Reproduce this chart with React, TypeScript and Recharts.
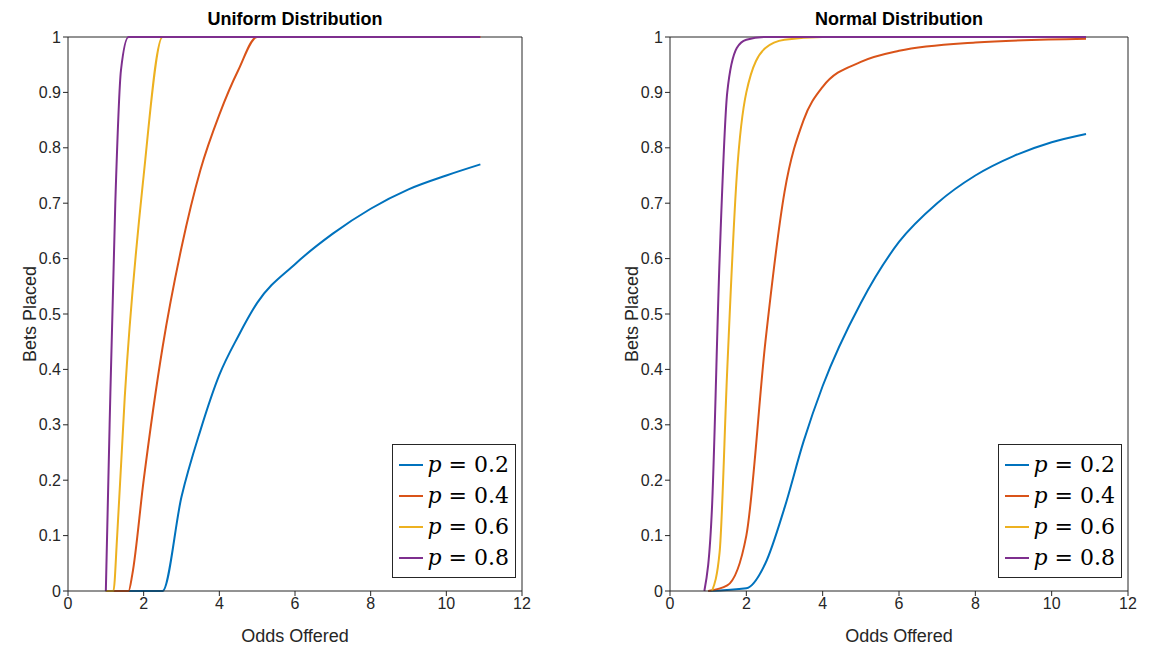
import { LineChart, Line, XAxis, YAxis, Label, ReferenceLine } from 'recharts'

type Pt = { x: number; y: number }
const pts = (a: number[][]): Pt[] => a.map(([x, y]) => ({ x, y }))

const COLORS = ['#0072BD', '#D95319', '#EDB120', '#7E2F8E']
const LABELS = ['p = 0.2', 'p = 0.4', 'p = 0.6', 'p = 0.8']
const X_TICKS = [0, 2, 4, 6, 8, 10, 12]
const Y_TICKS = [0, 0.1, 0.2, 0.3, 0.4, 0.5, 0.6, 0.7, 0.8, 0.9, 1]

const uniformP2 = pts([[1, 0], [2.5, 0], [3, 0.17], [3.5, 0.29], [4, 0.39], [4.5, 0.46], [5, 0.52], [6, 0.59], [7, 0.645], [8, 0.69], [9, 0.725], [10, 0.75], [10.9, 0.77]])
const uniformP4 = pts([[1, 0], [1.6, 0], [1.7, 0.03], [2, 0.2], [2.5, 0.44], [3, 0.62], [3.5, 0.76], [4, 0.86], [4.5, 0.94], [5, 1], [10.9, 1]])
const uniformP6 = pts([[1, 0], [1.2, 0], [1.3, 0.1], [1.5, 0.35], [2, 0.75], [2.5, 1], [10.9, 1]])
const uniformP8 = pts([[1, 0], [1.1, 0.3], [1.25, 0.7], [1.4, 0.94], [1.6, 1], [10.9, 1]])

const normalP2 = pts([[1, 0], [2, 0.005], [2.5, 0.05], [3, 0.15], [3.5, 0.27], [4, 0.37], [5, 0.52], [6, 0.63], [7, 0.7], [8, 0.75], [9, 0.785], [10, 0.81], [10.9, 0.825]])
const normalP4 = pts([[1, 0], [1.5, 0.01], [2, 0.1], [2.5, 0.45], [3, 0.72], [3.5, 0.85], [4, 0.91], [5, 0.955], [6, 0.975], [8, 0.99], [10.9, 0.997]])
const normalP6 = pts([[1.1, 0], [1.3, 0.07], [1.5, 0.4], [1.75, 0.75], [2, 0.9], [2.5, 0.98], [3, 0.995], [4, 1], [10.9, 1]])
const normalP8 = pts([[0.9, 0], [1.1, 0.15], [1.3, 0.6], [1.5, 0.9], [1.75, 0.98], [2, 0.995], [2.5, 1], [10.9, 1]])

const font = 'Liberation Sans, Arial, sans-serif'
const tick = { fontSize: 16, fill: '#262626', fontFamily: font }

function Panel({ title, series, left, marginLeft, marginRight }: { title: string; series: Pt[][]; left: number; marginLeft: number; marginRight: number }) {
  return (
    <div style={{ position: 'absolute', left, top: 0 }}>
      <div style={{ position: 'absolute', top: 9, left: marginLeft + 40, width: 575 - marginLeft - 40 - marginRight, textAlign: 'center', fontFamily: font, fontWeight: 'bold', fontSize: 18, color: '#000' }}>{title}</div>
      <LineChart width={575} height={649} margin={{ top: 37, right: marginRight, bottom: 28, left: marginLeft }}>
        <XAxis type="number" dataKey="x" domain={[0, 12]} ticks={X_TICKS} tick={tick} stroke="#262626" tickSize={5} height={30} allowDataOverflow>
          <Label value="Odds Offered" position="bottom" offset={8} style={{ fontSize: 18, fill: '#262626', fontFamily: font }} />
        </XAxis>
        <YAxis type="number" domain={[0, 1]} ticks={Y_TICKS} tick={tick} stroke="#262626" tickSize={5} width={40} tickFormatter={v => String(v)}>
          <Label value="Bets Placed" angle={-90} position="left" offset={-2} style={{ fontSize: 18, fill: '#262626', fontFamily: font, textAnchor: 'middle' }} />
        </YAxis>
        <ReferenceLine y={1} stroke="#262626" />
        <ReferenceLine x={12} stroke="#262626" />
        {series.map((d, i) => (
          <Line key={i} data={d} dataKey="y" type="monotone" stroke={COLORS[i]} strokeWidth={2} dot={false} isAnimationActive={false} />
        ))}
      </LineChart>
      <div style={{ position: 'absolute', left: 575 - marginRight - 130, top: 444, width: 124, height: 134, border: '1px solid #262626', background: '#fff', boxSizing: 'border-box', padding: '4px 6px' }}>
        {LABELS.map((l, i) => (
          <div key={l} style={{ display: 'flex', alignItems: 'center', height: 31 }}>
            <div style={{ width: 36, height: 2, background: COLORS[i], marginRight: 4 }} />
            <span style={{ fontFamily: 'DejaVu Serif, serif', fontSize: 22, fontStyle: 'italic', whiteSpace: 'nowrap' }}>p <span style={{ fontStyle: 'normal' }}>= {l.slice(4)}</span></span>
          </div>
        ))}
      </div>
    </div>
  )
}

export default function App() {
  return (
    <div style={{ position: 'absolute', left: 0, top: 0, width: 1150, height: 649, background: '#fff' }}>
      <Panel title="Uniform Distribution" series={[uniformP2, uniformP4, uniformP6, uniformP8]} left={0} marginLeft={28} marginRight={53} />
      <Panel title="Normal Distribution" series={[normalP2, normalP4, normalP6, normalP8]} left={575} marginLeft={55} marginRight={22} />
    </div>
  )
}
